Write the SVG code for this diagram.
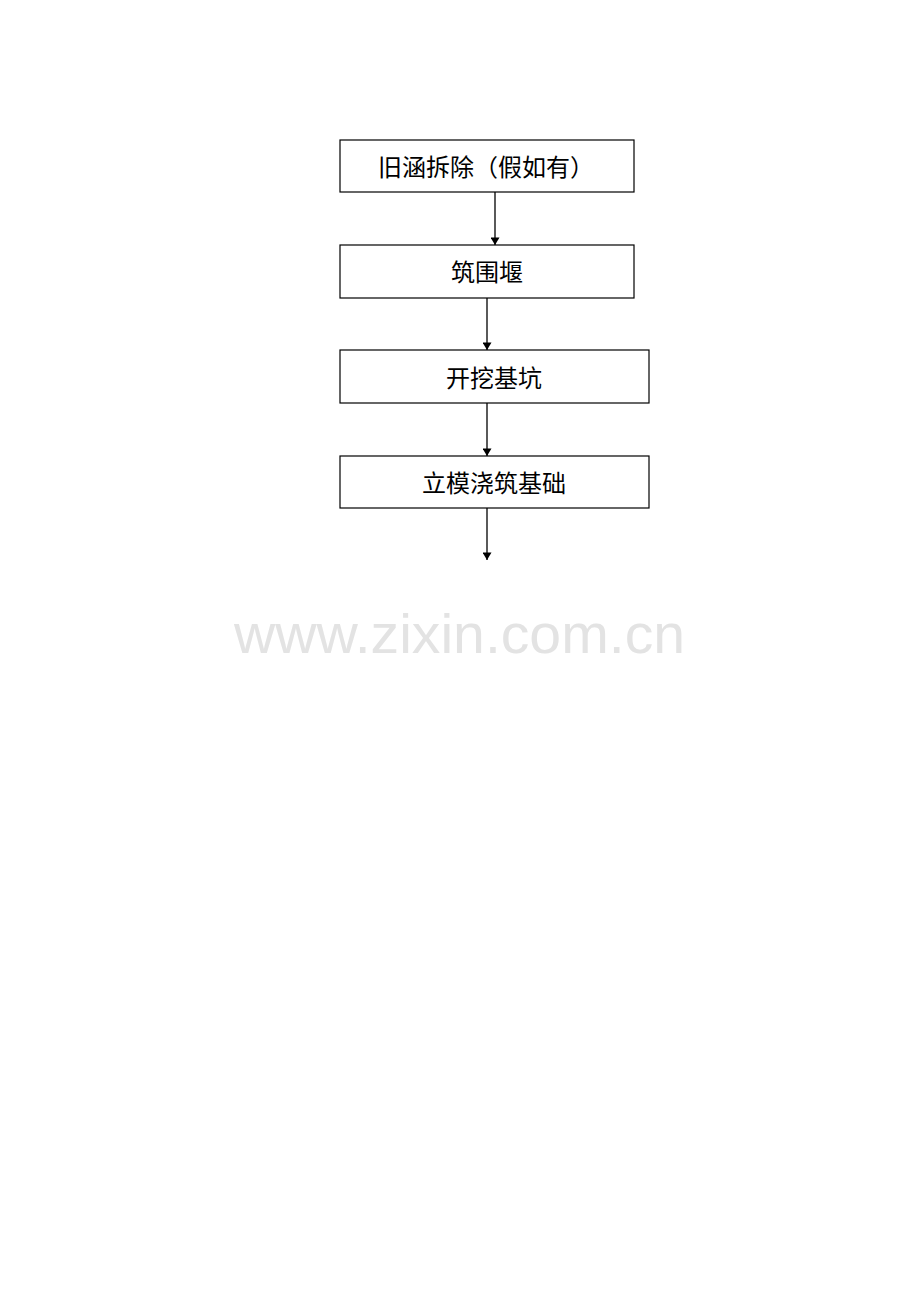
<svg xmlns="http://www.w3.org/2000/svg" width="920" height="1302" viewBox="0 0 920 1302">
<defs>
<style>
.box{fill:#fff;stroke:#000;stroke-width:1.2}
.lbl{font-family:"Liberation Serif","Noto Sans CJK SC",serif;font-size:24px;fill:#000;text-anchor:middle}
.con{stroke:#000;stroke-width:1.3;fill:none}
.wm{font-family:"Liberation Sans",Arial,sans-serif;font-size:56px;fill:#e3e3e3}
</style>
<marker id="ah" viewBox="0 0 10 12" refX="10" refY="6" markerWidth="10" markerHeight="9" markerUnits="userSpaceOnUse" orient="auto">
<path d="M0,0 L10,6 L0,12 z" fill="#000"/>
</marker>
</defs>
<rect width="920" height="1302" fill="#fff"/>
<text class="wm" x="234" y="653" textLength="451" lengthAdjust="spacingAndGlyphs">www.zixin.com.cn</text>
<g id="connectors">
<line class="con" x1="495" y1="192" x2="495" y2="245" marker-end="url(#ah)"/>
<line class="con" x1="487" y1="298" x2="487" y2="350" marker-end="url(#ah)"/>
<line class="con" x1="487" y1="403" x2="487" y2="456" marker-end="url(#ah)"/>
<line class="con" x1="487" y1="508" x2="487" y2="560" marker-end="url(#ah)"/>
</g>
<g id="n1">
<rect class="box" x="340" y="140" width="294" height="52"/>
<text class="lbl" x="486" y="176">旧涵拆除（假如有）</text>
</g>
<g id="n2">
<rect class="box" x="340" y="245" width="294" height="53"/>
<text class="lbl" x="487" y="281">筑围堰</text>
</g>
<g id="n3">
<rect class="box" x="340" y="350" width="309" height="53"/>
<text class="lbl" x="494" y="387">开挖基坑</text>
</g>
<g id="n4">
<rect class="box" x="340" y="456" width="309" height="52"/>
<text class="lbl" x="494" y="492">立模浇筑基础</text>
</g>
</svg>
